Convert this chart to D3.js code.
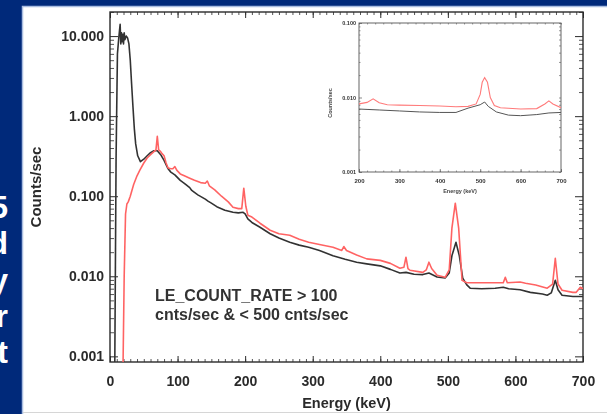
<!DOCTYPE html>
<html>
<head>
<meta charset="utf-8">
<script src="https://cdn.jsdelivr.net/npm/d3@7"></script>
<style>
  html, body { margin: 0; padding: 0; background: #00297a; overflow: hidden; }
  svg { display: block; font-family: "Liberation Sans", Arial, sans-serif; }
</style>
</head>
<body>
<svg id="chart"></svg>
<script>
const width = 607, height = 414;

// main spectrum, all events (black) -- [keV, counts/sec]
const blackSpectrum = [
  [7, 0.0006], [9, 0.3], [11, 6], [13, 9.5], [15, 14], [16, 8], [17, 11], [18, 8.5],
  [19, 10.5], [20, 8], [21, 11], [22, 9], [24, 10], [26, 9.5], [28, 8], [30, 5],
  [32, 2.5], [34, 1.3], [36, 0.7], [38, 0.45], [41, 0.32], [45, 0.27], [50, 0.29],
  [55, 0.32], [60, 0.35], [65, 0.37], [70, 0.37], [75, 0.33], [80, 0.28], [86, 0.22],
  [90, 0.2], [96, 0.185], [104, 0.158], [110, 0.145], [118, 0.128], [121, 0.118],
  [130, 0.104], [141, 0.092], [145, 0.087], [150, 0.082], [158, 0.074], [170, 0.067],
  [182, 0.063], [190, 0.062], [197, 0.063], [200, 0.06], [204, 0.052], [210, 0.047],
  [222, 0.041], [237, 0.034], [250, 0.03], [266, 0.0266], [280, 0.0245], [294, 0.023],
  [310, 0.021], [330, 0.018], [348, 0.0163], [365, 0.015], [380, 0.0143], [400, 0.0135],
  [415, 0.0122], [429, 0.011], [438, 0.0112], [450, 0.0106], [463, 0.0105], [472, 0.011],
  [484, 0.0098], [496, 0.0095], [502, 0.011], [506, 0.018], [512, 0.0266], [517, 0.018],
  [522, 0.0095], [528, 0.0078], [533, 0.0071], [550, 0.007], [570, 0.0071], [582, 0.0073],
  [590, 0.007], [607, 0.0068], [622, 0.0063], [640, 0.006], [647, 0.0058], [653, 0.0062],
  [659, 0.0089], [663, 0.0068], [669, 0.0058], [685, 0.0056], [696, 0.0056], [700, 0.0056]
];

// main spectrum, LE_COUNT_RATE selection (red)
const redSpectrum = [
  [19, 0.0005], [21, 0.01], [23, 0.06], [25, 0.08], [27, 0.085], [30, 0.1], [35, 0.14],
  [40, 0.18], [44, 0.21], [50, 0.26], [55, 0.3], [60, 0.33], [65, 0.36], [68, 0.38],
  [70, 0.56], [72, 0.38], [75, 0.36], [77, 0.34], [80, 0.32], [83, 0.26], [86, 0.225],
  [90, 0.22], [93, 0.22], [96, 0.235], [99, 0.21], [104, 0.19], [110, 0.18], [118, 0.168],
  [125, 0.158], [134, 0.148], [141, 0.145], [144, 0.155], [147, 0.135], [155, 0.12],
  [165, 0.1], [175, 0.085], [182, 0.0728], [190, 0.07], [195, 0.07], [198, 0.126],
  [201, 0.075], [204, 0.058], [210, 0.055], [222, 0.046], [237, 0.0376], [250, 0.034],
  [266, 0.0325], [280, 0.029], [294, 0.0266], [310, 0.025], [330, 0.023], [343, 0.021],
  [346, 0.0235], [350, 0.021], [365, 0.0185], [380, 0.0165], [400, 0.0158], [415, 0.0145],
  [429, 0.0126], [435, 0.013], [438, 0.0173], [441, 0.0125], [444, 0.0119], [463, 0.0112],
  [468, 0.012], [472, 0.015], [476, 0.0125], [484, 0.0103], [496, 0.0097], [502, 0.012],
  [506, 0.04], [511, 0.0818], [516, 0.04], [521, 0.0089], [528, 0.0083], [560, 0.0083],
  [582, 0.0083], [585, 0.0097], [588, 0.0083], [607, 0.0085], [615, 0.0082], [630, 0.0078],
  [647, 0.0071], [655, 0.008], [659, 0.0168], [663, 0.008], [669, 0.0067], [685, 0.0063],
  [690, 0.0063], [696, 0.0073], [700, 0.007]
];

// inset spectra
const insetBlack = [
  [200, 0.007], [250, 0.0068], [300, 0.0066], [350, 0.0064], [400, 0.0063], [440, 0.0063],
  [470, 0.0072], [500, 0.008], [511, 0.0087], [520, 0.0076], [540, 0.0064], [570, 0.0058],
  [600, 0.0057], [640, 0.0059], [670, 0.0062], [700, 0.0063]
];
const insetRed = [
  [200, 0.0082], [220, 0.0086], [235, 0.0096], [250, 0.0085], [270, 0.008], [300, 0.0079],
  [350, 0.0078], [400, 0.0077], [440, 0.0075], [470, 0.0076], [490, 0.0082], [500, 0.011],
  [505, 0.016], [511, 0.0185], [518, 0.016], [525, 0.01], [535, 0.0078], [550, 0.0073],
  [600, 0.007], [640, 0.0071], [660, 0.0082], [670, 0.009], [680, 0.0082], [700, 0.0073]
];

const yTicks = [0.001, 0.01, 0.1, 1, 10];
const xTicks = [0, 100, 200, 300, 400, 500, 600, 700];
const insetYTicks = [0.001, 0.01, 0.1];
const insetXTicks = [200, 300, 400, 500, 600, 700];
const sideLetters = ['5', 'd', 'y', 'r', 't'];
const noteLines = ['LE_COUNT_RATE > 100', 'cnts/sec & < 500 cnts/sec'];

const svg = d3.select('#chart').attr('width', width).attr('height', height);

svg.append('rect').attr('width', width).attr('height', height).attr('fill', '#00297a');

// slide text on the left, cut by the edge as in the original
svg.append('g')
  .selectAll('text')
  .data(sideLetters)
  .join('text')
  .attr('x', 8)
  .attr('y', (d, i) => 218 + i * 36.3)
  .attr('text-anchor', 'end')
  .attr('fill', '#fff')
  .attr('font-weight', 'bold')
  .attr('font-size', 32)
  .text(d => d);

// white panel
svg.append('rect').attr('x', 23).attr('y', 7).attr('width', width - 23).attr('height', height - 7).attr('fill', '#fff');
svg.append('path').attr('d', 'M22.5,414V6.5H607').attr('fill', 'none').attr('stroke', '#a9bde0').attr('stroke-width', 1.5);
svg.append('line').attr('x1', 23).attr('x2', width).attr('y1', 412.5).attr('y2', 412.5).attr('stroke', '#d6d6d6');

const defs = svg.append('defs');
defs.append('filter').attr('id', 'soft')
  .append('feGaussianBlur').attr('stdDeviation', 0.6);
defs.append('clipPath').attr('id', 'plotclip')
  .append('rect').attr('x', 110).attr('y', 12).attr('width', 473).attr('height', 350);
defs.append('clipPath').attr('id', 'insetclip')
  .append('rect').attr('x', 359).attr('y', 23).attr('width', 202).attr('height', 149);

const chart = svg.append('g').attr('filter', 'url(#soft)');

function minorLog(lo, hi) {
  const out = [];
  for (let d = lo; d < hi * 1.0001; d *= 10)
    for (let m = 2; m <= 9; m++) if (d * m <= hi) out.push(d * m);
  return out;
}

function styleAxis(g, color, width) {
  g.select('.domain').remove();
  g.selectAll('line').attr('stroke', color).attr('stroke-width', width);
}

const labelFont = 14;

// ---------- main plot ----------
const x = d3.scaleLinear().domain([0, 700]).range([110, 583]);
const y = d3.scaleLog().domain([0.00085, 20]).range([362, 12]);
const ink = '#2b2b2b';

chart.append('g').attr('transform', 'translate(110,0)')
  .call(d3.axisLeft(y).tickValues(yTicks).tickFormat(d3.format('.3f')).tickSize(-8).tickPadding(6))
  .call(g => styleAxis(g, ink, 1))
  .call(g => g.selectAll('text').attr('fill', ink).attr('font-size', labelFont).attr('font-weight', 'bold').attr('font-family', 'Liberation Sans, Arial'));
chart.append('g').attr('transform', 'translate(110,0)')
  .call(d3.axisLeft(y).tickValues(minorLog(0.001, 20)).tickFormat('').tickSize(-4))
  .call(g => styleAxis(g, ink, 0.8));
chart.append('g').attr('transform', 'translate(583,0)')
  .call(d3.axisRight(y).tickValues(yTicks).tickFormat('').tickSize(-8))
  .call(g => styleAxis(g, ink, 1));
chart.append('g').attr('transform', 'translate(583,0)')
  .call(d3.axisRight(y).tickValues(minorLog(0.001, 20)).tickFormat('').tickSize(-4))
  .call(g => styleAxis(g, ink, 0.8));

chart.append('g').attr('transform', 'translate(0,362)')
  .call(d3.axisBottom(x).tickValues(xTicks).tickFormat(d3.format('d')).tickSize(-6).tickPadding(14))
  .call(g => styleAxis(g, ink, 1))
  .call(g => g.selectAll('text').attr('fill', ink).attr('font-size', labelFont).attr('font-weight', 'bold').attr('font-family', 'Liberation Sans, Arial'));
chart.append('g').attr('transform', 'translate(0,362)')
  .call(d3.axisBottom(x).tickValues(d3.range(0, 701, 10)).tickFormat('').tickSize(-3))
  .call(g => styleAxis(g, ink, 0.8));
chart.append('g').attr('transform', 'translate(0,12)')
  .call(d3.axisTop(x).tickValues(xTicks).tickFormat('').tickSize(-6))
  .call(g => styleAxis(g, ink, 1));
chart.append('g').attr('transform', 'translate(0,12)')
  .call(d3.axisTop(x).tickValues(d3.range(0, 701, 10)).tickFormat('').tickSize(-3))
  .call(g => styleAxis(g, ink, 0.8));

chart.append('rect').attr('x', 110).attr('y', 12).attr('width', 473).attr('height', 350)
  .attr('fill', 'none').attr('stroke', ink).attr('stroke-width', 1.4);

const line = d3.line().x(d => x(d[0])).y(d => y(d[1]));
const plot = chart.append('g').attr('clip-path', 'url(#plotclip)');
plot.append('path').datum(blackSpectrum).attr('d', line)
  .attr('fill', 'none').attr('stroke', '#333').attr('stroke-width', 1.6).attr('stroke-linejoin', 'round');
plot.append('path').datum(redSpectrum).attr('d', line)
  .attr('fill', 'none').attr('stroke', '#ff6464').attr('stroke-width', 1.6).attr('stroke-linejoin', 'round');

chart.append('text').attr('x', 346.5).attr('y', 408).attr('text-anchor', 'middle')
  .attr('font-size', 14.5).attr('font-weight', 'bold').attr('fill', ink).text('Energy (keV)');
chart.append('text').attr('transform', 'translate(41,187) rotate(-90)').attr('text-anchor', 'middle')
  .attr('font-size', 15).attr('font-weight', 'bold').attr('fill', ink).text('Counts/sec');

chart.append('g').selectAll('text').data(noteLines).join('text')
  .attr('x', 155).attr('y', (d, i) => 301 + i * 19)
  .attr('font-size', 16).attr('font-weight', 'bold').attr('fill', '#333')
  .text(d => d);

// ---------- inset ----------
const ix = d3.scaleLinear().domain([200, 700]).range([359, 561]);
const iy = d3.scaleLog().domain([0.001, 0.1]).range([172, 23]);
const inInk = '#555';

chart.append('g').attr('transform', 'translate(359,0)')
  .call(d3.axisLeft(iy).tickValues(insetYTicks).tickFormat(d3.format('.3f')).tickSize(-3).tickPadding(3))
  .call(g => styleAxis(g, inInk, 0.7))
  .call(g => g.selectAll('text').attr('fill', '#333').attr('font-size', 5.5).attr('font-weight', 'bold').attr('font-family', 'Liberation Sans, Arial'));
chart.append('g').attr('transform', 'translate(359,0)')
  .call(d3.axisLeft(iy).tickValues(minorLog(0.001, 0.1)).tickFormat('').tickSize(-1.5))
  .call(g => styleAxis(g, inInk, 0.6));
chart.append('g').attr('transform', 'translate(561,0)')
  .call(d3.axisRight(iy).tickValues(minorLog(0.001, 0.1).concat(insetYTicks)).tickFormat('').tickSize(-2))
  .call(g => styleAxis(g, inInk, 0.6));
chart.append('g').attr('transform', 'translate(0,172)')
  .call(d3.axisBottom(ix).tickValues(insetXTicks).tickFormat(d3.format('d')).tickSize(-3).tickPadding(7))
  .call(g => styleAxis(g, inInk, 0.7))
  .call(g => g.selectAll('text').attr('fill', '#333').attr('font-size', 6).attr('font-weight', 'bold').attr('font-family', 'Liberation Sans, Arial'));
chart.append('g').attr('transform', 'translate(0,172)')
  .call(d3.axisBottom(ix).tickValues(d3.range(200, 701, 20)).tickFormat('').tickSize(-1.5))
  .call(g => styleAxis(g, inInk, 0.6));
chart.append('g').attr('transform', 'translate(0,23)')
  .call(d3.axisTop(ix).tickValues(d3.range(200, 701, 20)).tickFormat('').tickSize(-1.5))
  .call(g => styleAxis(g, inInk, 0.6));

chart.append('rect').attr('x', 359).attr('y', 23).attr('width', 202).attr('height', 149)
  .attr('fill', 'none').attr('stroke', inInk).attr('stroke-width', 0.9);

const iline = d3.line().x(d => ix(d[0])).y(d => iy(d[1]));
const inset = chart.append('g').attr('clip-path', 'url(#insetclip)');
inset.append('path').datum(insetBlack).attr('d', iline)
  .attr('fill', 'none').attr('stroke', '#555').attr('stroke-width', 1);
inset.append('path').datum(insetRed).attr('d', iline)
  .attr('fill', 'none').attr('stroke', '#ff7a7a').attr('stroke-width', 1.1);

chart.append('text').attr('x', 460).attr('y', 193).attr('text-anchor', 'middle')
  .attr('font-size', 5.5).attr('font-weight', 'bold').attr('fill', '#444').text('Energy (keV)');
chart.append('text').attr('transform', 'translate(332,103) rotate(-90)').attr('text-anchor', 'middle')
  .attr('font-size', 5.5).attr('font-weight', 'bold').attr('fill', '#444').text('Counts/sec');
</script>
</body>
</html>
